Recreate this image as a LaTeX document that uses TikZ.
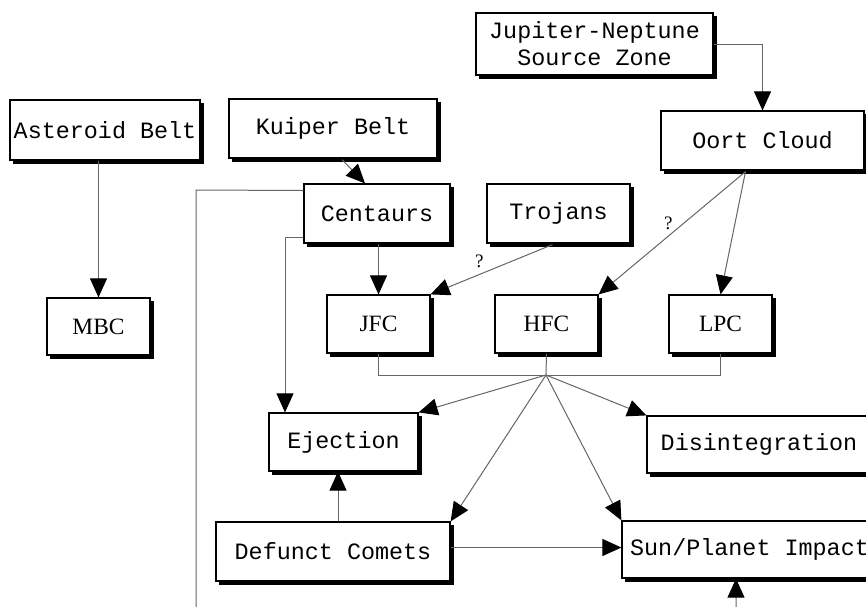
\documentclass[tikz,border=0pt]{standalone}
\usepackage{fontspec}
\setmonofont{Liberation Mono}
\newfontfamily\tmsfont{Liberation Serif}
\usetikzlibrary{arrows.meta}
\usetikzlibrary{calc}
\usetikzlibrary{backgrounds}

\tikzset{
  box/.style={draw, line width=0.6pt, fill=white, inner sep=0pt,
    font=\fontsize{11.7}{13.5}\selectfont\ttfamily, align=center},
  cbox/.style={box, font=\fontsize{11.7}{13.5}\selectfont\tmsfont},
  flow/.style={draw=black!60, line width=0.5pt},
  to/.style={flow, -{Triangle[length=9.5pt, width=8.5pt, color=black]}},
  qmark/.style={font=\fontsize{9.5}{10}\selectfont\tmsfont, inner sep=0pt}
}

\begin{document}
\begin{tikzpicture}[x=0.5pt, y=-0.5pt]
\useasboundingbox (0,0) rectangle (866,606);
\clip (0,0) rectangle (866,606);

% sources
\node[box, minimum width=95pt, minimum height=30pt] (ast) at (105,130) {Asteroid Belt};
\node[box, minimum width=104pt, minimum height=29.5pt] (kuip) at (333,128.5) {Kuiper Belt};
\node[box, minimum width=118.5pt, minimum height=31pt] (jn) at (594.5,44) {Jupiter-Neptune\\Source Zone};
\node[box, minimum width=101.5pt, minimum height=29.5pt] (oort) at (762.5,140.5) {Oort Cloud};
\node[box, minimum width=73pt, minimum height=29.5pt] (cent) at (377,213.5) {Centaurs};
\node[box, minimum width=71.5pt, minimum height=29.5pt] (troj) at (558.5,213.5) {Trojans};

% comet classes
\node[cbox, minimum width=51.5pt, minimum height=28.5pt] (mbc) at (98.5,326.5) {MBC};
\node[cbox, minimum width=51.5pt, minimum height=29pt] (jfc) at (378.5,324) {JFC};
\node[cbox, minimum width=51.5pt, minimum height=29pt] (hfc) at (546.5,324) {HFC};
\node[cbox, minimum width=51.5pt, minimum height=29pt] (lpc) at (720.5,324) {LPC};

% end states
\node[box, minimum width=74.5pt, minimum height=29pt] (ejec) at (343.5,442) {Ejection};
\node[box, minimum width=112pt, minimum height=28.5pt] (disi) at (759,444.5) {Disintegration};
\node[box, minimum width=117pt, minimum height=29.5pt] (defc) at (333,551.5) {Defunct Comets};
\node[box, minimum width=127.5pt, minimum height=28.5pt] (spi) at (749.5,549.5) {Sun/Planet Impact};

% black shadows behind every box
\begin{scope}[on background layer]
\fill[white] (0,0) rectangle (866,606);
\foreach \n in {ast,kuip,jn,oort,cent,troj,mbc,jfc,hfc,lpc,ejec,disi,defc,spi}
  \fill[black] ($(\n.south west)+(1.7pt,-1.7pt)$) rectangle ($(\n.north east)+(1.7pt,-1.7pt)$);
\end{scope}

\coordinate (hub) at (546,375);
\coordinate (kb) at ($(kuip.south)+(9,1)$);
\coordinate (tb) at ($(troj.south)+(-6,1)$);
\coordinate (ob) at ($(oort.south)+(-17,1)$);
\coordinate (cw1) at ($(cent.west)+(0,-23)$);
\coordinate (cw2) at ($(cent.west)+(0,23.5)$);
\coordinate (de) at ($(defc.east)+(0,-4)$);

% upper connectors
\draw[to] (ast.south -| mbc.north) -- (mbc.north);
\draw[to] (kb) -- ($(cent.north)+(-12,0)$);
\draw[to] (jn.east) -| (oort.north);
\draw[to] (cent.south -| jfc.north) -- (jfc.north);
\draw[to] (tb) -- node[qmark, above, pos=0.6, yshift=3pt] {?} (jfc.north east);
\draw[to] (ob) -- node[qmark, above left, pos=0.48, xshift=-1pt] {?} (hfc.north east);
\draw[to] (ob) -- (lpc.north);

% centaurs side routes
\draw[to] (cw1) -- (196,190) -- (196,640) -- (736,640) -- (spi.south -| 736,0);
\draw[to] (cw2) -| (ejec.north -| 285,0);

% collect the three classes
\draw[flow] (jfc.south) |- (hub) -| (lpc.south);
\draw[flow] (hfc.south) -- (hub);

% fates
\draw[to] (hub) -- (ejec.north east);
\draw[to] (hub) -- (defc.north east);
\draw[to] (hub) -- (spi.north west);
\draw[to] (hub) -- (disi.north west);
\draw[to] (defc.north -| 338,0) -- (ejec.south -| 338,0);
\draw[to] (de) -- (de -| spi.west);
\end{tikzpicture}
\end{document}
